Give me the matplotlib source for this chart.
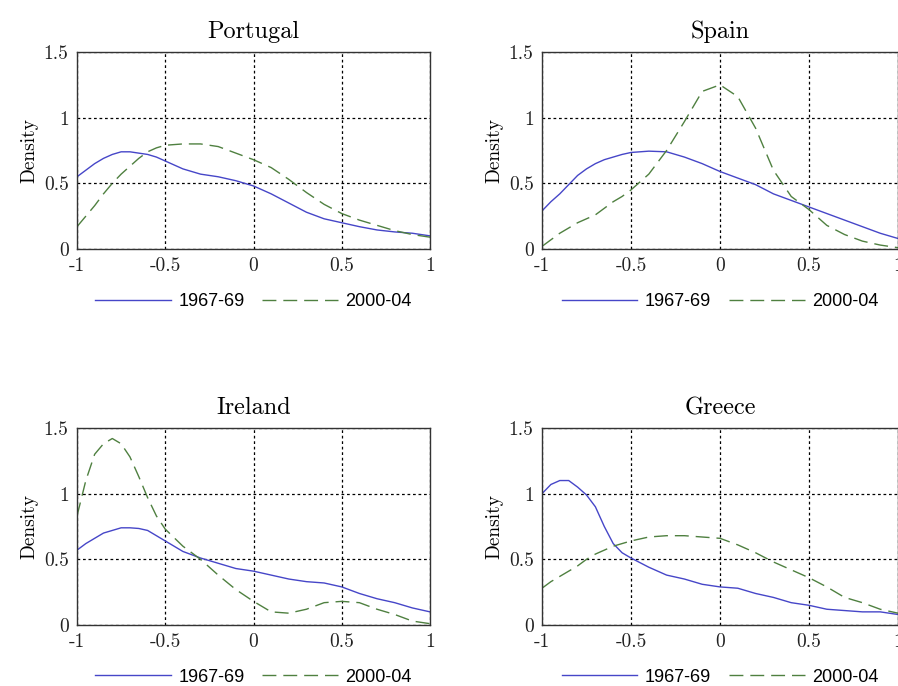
"""Kernel densities of relative income, four countries, 1967-69 vs 2000-04."""

import matplotlib as mpl
import matplotlib.pyplot as plt
import numpy as np

mpl.rcParams["axes.unicode_minus"] = False

# Grid of evaluation points
x_grid = [-1.0, -0.95, -0.9, -0.85, -0.8, -0.75, -0.7, -0.65, -0.6, -0.55, -0.5,
          -0.4, -0.3, -0.2, -0.1, 0.0, 0.1, 0.2, 0.3, 0.4, 0.5, 0.6, 0.7, 0.8,
          0.9, 1.0]

countries = ["Portugal", "Spain", "Ireland", "Greece"]
periods = ["1967-69", "2000-04"]

portugal_6769 = [0.55, 0.60, 0.65, 0.69, 0.72, 0.74, 0.74, 0.73, 0.72, 0.70, 0.67,
                 0.61, 0.57, 0.55, 0.52, 0.48, 0.42, 0.35, 0.28, 0.23, 0.20, 0.17,
                 0.145, 0.13, 0.12, 0.10]
portugal_0004 = [0.17, 0.25, 0.33, 0.42, 0.50, 0.57, 0.63, 0.69, 0.74, 0.77, 0.79,
                 0.80, 0.80, 0.78, 0.73, 0.68, 0.62, 0.53, 0.43, 0.34, 0.27, 0.22,
                 0.18, 0.14, 0.11, 0.09]
spain_6769 = [0.29, 0.36, 0.42, 0.49, 0.56, 0.61, 0.65, 0.68, 0.70, 0.72, 0.735,
              0.745, 0.74, 0.70, 0.65, 0.59, 0.54, 0.49, 0.42, 0.37, 0.32, 0.27,
              0.22, 0.17, 0.12, 0.08]
spain_0004 = [0.02, 0.07, 0.12, 0.16, 0.20, 0.23, 0.26, 0.31, 0.36, 0.40, 0.45,
              0.57, 0.75, 0.97, 1.20, 1.25, 1.16, 0.92, 0.60, 0.40, 0.30, 0.18,
              0.11, 0.06, 0.03, 0.01]
ireland_6769 = [0.57, 0.62, 0.66, 0.70, 0.72, 0.74, 0.74, 0.735, 0.72, 0.68, 0.64,
                0.56, 0.51, 0.47, 0.43, 0.41, 0.38, 0.35, 0.33, 0.32, 0.29, 0.24,
                0.20, 0.17, 0.13, 0.10]
ireland_0004 = [0.83, 1.10, 1.30, 1.38, 1.42, 1.38, 1.28, 1.13, 0.97, 0.83, 0.73,
                0.60, 0.50, 0.38, 0.27, 0.18, 0.10, 0.09, 0.12, 0.17, 0.18, 0.17,
                0.12, 0.08, 0.03, 0.01]
greece_6769 = [1.00, 1.07, 1.10, 1.10, 1.05, 0.99, 0.90, 0.75, 0.62, 0.55, 0.51,
               0.44, 0.38, 0.35, 0.31, 0.29, 0.28, 0.24, 0.21, 0.17, 0.15, 0.12,
               0.11, 0.10, 0.10, 0.08]
greece_0004 = [0.28, 0.33, 0.37, 0.41, 0.45, 0.50, 0.54, 0.57, 0.60, 0.62, 0.64,
               0.67, 0.68, 0.68, 0.67, 0.66, 0.61, 0.55, 0.48, 0.42, 0.36, 0.29,
               0.21, 0.17, 0.12, 0.09]

x_ticks = [-1, -0.5, 0, 0.5, 1]
x_ticklabels = ["-1", "-0.5", "0", "0.5", "1"]
y_ticks = [0, 0.5, 1, 1.5]
y_ticklabels = ["0", "0.5", "1", "1.5"]

BLUE = "#4646c8"
GREEN = "#4f8040"
SERIF = "cmr10"


def plot_panel(ax, country, old, new, leg_y):
    """One density panel with its legend below."""
    (l1,) = ax.plot(x_grid, old, c=BLUE, lw=1.0)
    (l2,) = ax.plot(x_grid, new, c=GREEN, lw=1.0, dashes=(10, 5))
    ax.set_xlim(-1, 1)
    ax.set_ylim(0, 1.5)
    ax.set_xticks(x_ticks)
    ax.set_xticklabels(x_ticklabels, family=SERIF, fontsize=14)
    ax.set_yticks(y_ticks)
    ax.set_yticklabels(y_ticklabels, family=SERIF, fontsize=14)
    ax.tick_params(length=0, pad=6, colors="#222222")
    ax.grid(True, color="black", lw=0.9, ls=(0, (2.2, 2.2)))
    for s in ax.spines.values():
        s.set_color("#333333")
        s.set_linewidth(1.0)
    ax.set_title(country, family=SERIF, fontsize=17.5, pad=10)
    ax.set_ylabel("Density", family=SERIF, fontsize=14, labelpad=4)
    ax.legend(
        [l1, l2],
        periods,
        loc="center",
        bbox_to_anchor=(0.5, leg_y),
        ncol=2,
        frameon=False,
        handlelength=4.2,
        handletextpad=0.4,
        columnspacing=1.0,
        prop={"family": "Liberation Sans", "size": 13},
    )


def main():
    fig = plt.figure(figsize=(8.98, 6.86), dpi=100)
    w_l, w_r, h = 353 / 898, 356 / 898, 197 / 686
    boxes = [
        (77 / 898, 1 - 249 / 686, w_l, h),
        (542 / 898, 1 - 249 / 686, w_r, h),
        (77 / 898, 1 - 625 / 686, w_l, h),
        (542 / 898, 1 - 625 / 686, w_r, h),
    ]
    series = [
        (portugal_6769, portugal_0004),
        (spain_6769, spain_0004),
        (ireland_6769, ireland_0004),
        (greece_6769, greece_0004),
    ]
    for country, box, (old, new) in zip(countries, boxes, series, strict=True):
        ax = fig.add_axes(box)
        leg_y = -(302 - 249) / 197 if box[1] > 0.5 else -(677 - 625) / 197
        plot_panel(ax, country, old, new, leg_y)
    fig.savefig("out.png", dpi=100)


if __name__ == "__main__":
    main()
